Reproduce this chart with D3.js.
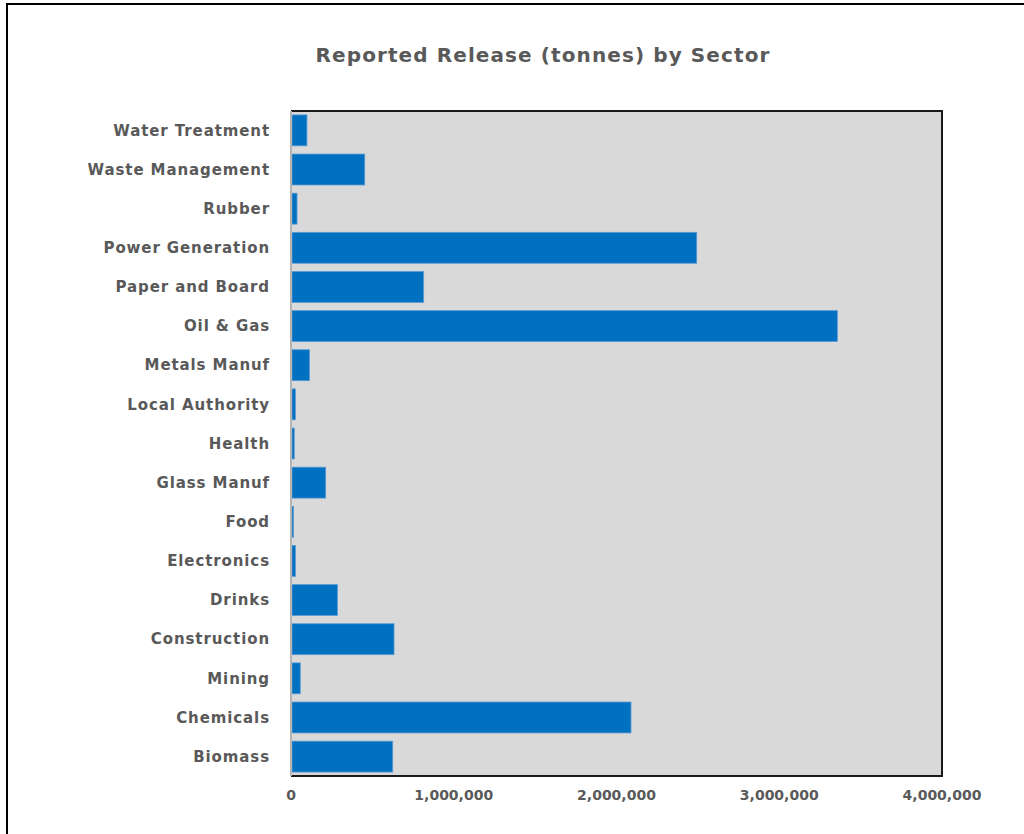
<!DOCTYPE html>
<html>
<head>
<meta charset="utf-8">
<script src="https://cdn.jsdelivr.net/npm/d3@7"></script>
<style>
  body { margin: 0; background: #fff; }
  text { font-family: "DejaVu Sans", Verdana, sans-serif; font-weight: bold; fill: #595959; }
</style>
</head>
<body>
<div id="chart"></div>
<script>
// sectors, top to bottom as drawn
var sectors = ["Water Treatment", "Waste Management", "Rubber", "Power Generation",
    "Paper and Board", "Oil & Gas", "Metals Manuf", "Local Authority", "Health",
    "Glass Manuf", "Food", "Electronics", "Drinks", "Construction", "Mining",
    "Chemicals", "Biomass"];

// reported release, tonnes
var releases = [98000, 453000, 37000, 2493000,
    815000, 3357000, 113000, 27000, 20000,
    213000, 16000, 27000, 285000, 633000, 57000,
    2089000, 625000];

var xTicks = [0, 1000000, 2000000, 3000000, 4000000];

var width = 1024, height = 834;
var plot = { left: 291, top: 111, right: 942, bottom: 776 };

var svg = d3.select("#chart").append("svg")
    .attr("width", width)
    .attr("height", height);

// outer chart frame
svg.append("rect")
    .attr("x", 7).attr("y", 4)
    .attr("width", width + 20).attr("height", height + 20)
    .attr("fill", "#fff")
    .attr("stroke", "#000")
    .attr("stroke-width", 2);

svg.append("text")
    .attr("x", 543)
    .attr("y", 62)
    .attr("text-anchor", "middle")
    .style("font-size", "20px")
    .style("letter-spacing", "1.1px")
    .text("Reported Release (tonnes) by Sector");

var x = d3.scaleLinear()
    .domain([0, 4000000])
    .range([plot.left, plot.right]);

var y = d3.scaleBand()
    .domain(sectors)
    .range([plot.top, plot.bottom])
    .paddingInner(0.21)
    .paddingOuter(0.1);

// plot area background
svg.append("rect")
    .attr("x", plot.left).attr("y", plot.top)
    .attr("width", plot.right - plot.left)
    .attr("height", plot.bottom - plot.top)
    .attr("fill", "#d9d9d9");

var data = sectors.map(function(s, i) { return { sector: s, value: releases[i] }; });

svg.append("g").selectAll("rect")
    .data(data)
    .enter().append("rect")
    .attr("x", x(0) + 1)
    .attr("y", function(d) { return y(d.sector); })
    .attr("width", function(d) { return x(d.value) - x(0) - 1; })
    .attr("height", y.bandwidth())
    .attr("fill", "#0070c0")
    .attr("stroke", "#5b9bd5")
    .attr("stroke-width", 0.8);

// border: black top/right/bottom, grey left axis
svg.append("path")
    .attr("d", "M" + plot.left + "," + plot.top + "H" + plot.right + "V" + plot.bottom + "H" + plot.left)
    .attr("fill", "none")
    .attr("stroke", "#1a1a1a")
    .attr("stroke-width", 2);

svg.append("line")
    .attr("x1", plot.left).attr("x2", plot.left)
    .attr("y1", plot.top).attr("y2", plot.bottom)
    .attr("stroke", "#b4b4b4")
    .attr("stroke-width", 2);

// category labels
svg.append("g").selectAll("text")
    .data(sectors)
    .enter().append("text")
    .attr("x", 270)
    .attr("y", function(d) { return y(d) + y.bandwidth() / 2; })
    .attr("dy", "0.35em")
    .attr("text-anchor", "end")
    .style("font-size", "15px")
    .style("letter-spacing", "0.9px")
    .text(function(d) { return d; });

// x axis tick labels
var fmt = d3.format(",");
svg.append("g").selectAll("text")
    .data(xTicks)
    .enter().append("text")
    .attr("x", function(d) { return x(d); })
    .attr("y", 800)
    .attr("text-anchor", "middle")
    .style("font-size", "14px")
    .text(function(d) { return fmt(d); });
</script>
</body>
</html>
